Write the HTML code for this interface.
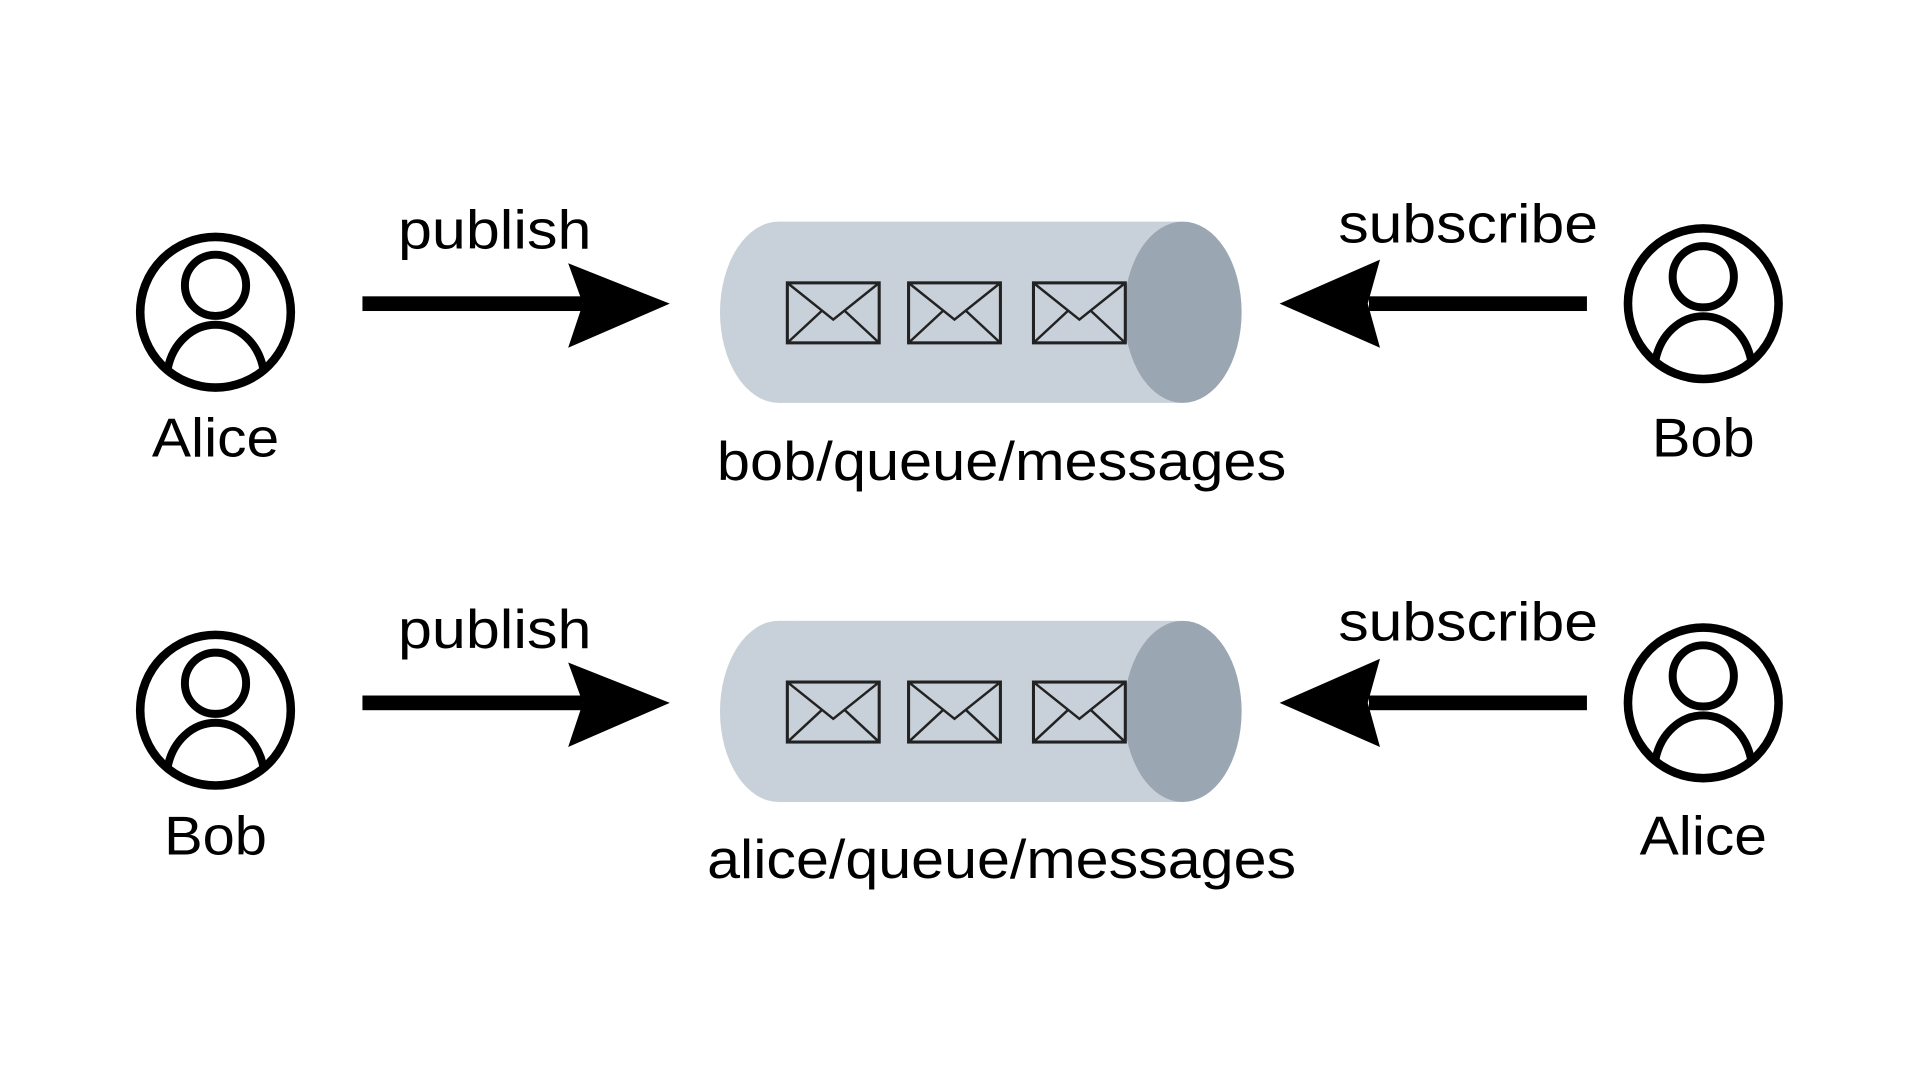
<!DOCTYPE html>
<html><head><style>html,body{margin:0;padding:0;background:#fff;width:1920px;height:1080px;overflow:hidden}</style></head>
<body>
<svg width="1920" height="1080" viewBox="0 0 1568 882" xmlns="http://www.w3.org/2000/svg">
<defs>
<g id="user">
<circle cx="0" cy="0" r="61.5" fill="none" stroke="#000" stroke-width="7"/>
<circle cx="0" cy="-22" r="25" fill="none" stroke="#000" stroke-width="6.5"/>
<path d="M-39,46 A40,46 0 0 1 39,46" fill="none" stroke="#000" stroke-width="6.5"/>
</g>
<g id="env">
<rect x="0" y="0" width="75" height="49" fill="none" stroke="#222" stroke-width="2.5"/>
<path d="M0,0 L37.5,30 L75,0 M0,49 L28,23 M75,49 L47,23" fill="none" stroke="#222" stroke-width="2"/>
</g>
<g id="pipe">
<rect x="636" y="0" width="330" height="148" fill="#c8d0d9"/>
<ellipse cx="636" cy="74" rx="48" ry="74" fill="#c8d0d9"/>
<ellipse cx="966" cy="74" rx="48" ry="74" fill="#9aa6b2"/>
<use href="#env" x="643" y="50"/>
<use href="#env" x="742" y="50"/>
<use href="#env" x="844" y="50"/>
</g>
<g id="pub">
<rect x="296" y="-6" width="180" height="12" fill="#000"/>
<path d="M464,-33 L547,0 L464,36 L476,0 Z" fill="#000"/>
</g>
<g id="sub">
<rect x="1118" y="-6" width="178" height="12" fill="#000"/>
<path d="M1127,-36 L1045,0 L1127,36 L1117,0 Z" fill="#000"/>
</g>
</defs>
<g font-family="Liberation Sans, sans-serif" font-size="45" text-anchor="middle" fill="#000" lengthAdjust="spacingAndGlyphs">
<use href="#user" x="176" y="255"/>
<use href="#user" x="1391" y="248"/>
<use href="#pub" x="0" y="248"/>
<use href="#sub" x="0" y="248"/>
<use href="#pipe" x="0" y="181"/>
<text x="404" y="203" textLength="158" lengthAdjust="spacingAndGlyphs">publish</text>
<text x="1199" y="198" textLength="212" lengthAdjust="spacingAndGlyphs">subscribe</text>
<text x="176" y="373" textLength="104" lengthAdjust="spacingAndGlyphs">Alice</text>
<text x="1391" y="373" textLength="84" lengthAdjust="spacingAndGlyphs">Bob</text>
<text x="818" y="392" textLength="465" lengthAdjust="spacingAndGlyphs">bob/queue/messages</text>

<use href="#user" x="176" y="580"/>
<use href="#user" x="1391" y="574"/>
<use href="#pub" x="0" y="574"/>
<use href="#sub" x="0" y="574"/>
<use href="#pipe" x="0" y="507"/>
<text x="404" y="529" textLength="158" lengthAdjust="spacingAndGlyphs">publish</text>
<text x="1199" y="523" textLength="212" lengthAdjust="spacingAndGlyphs">subscribe</text>
<text x="176" y="698" textLength="84" lengthAdjust="spacingAndGlyphs">Bob</text>
<text x="1391" y="698" textLength="104" lengthAdjust="spacingAndGlyphs">Alice</text>
<text x="818" y="717" textLength="481" lengthAdjust="spacingAndGlyphs">alice/queue/messages</text>
</g>
</svg>
</body></html>
